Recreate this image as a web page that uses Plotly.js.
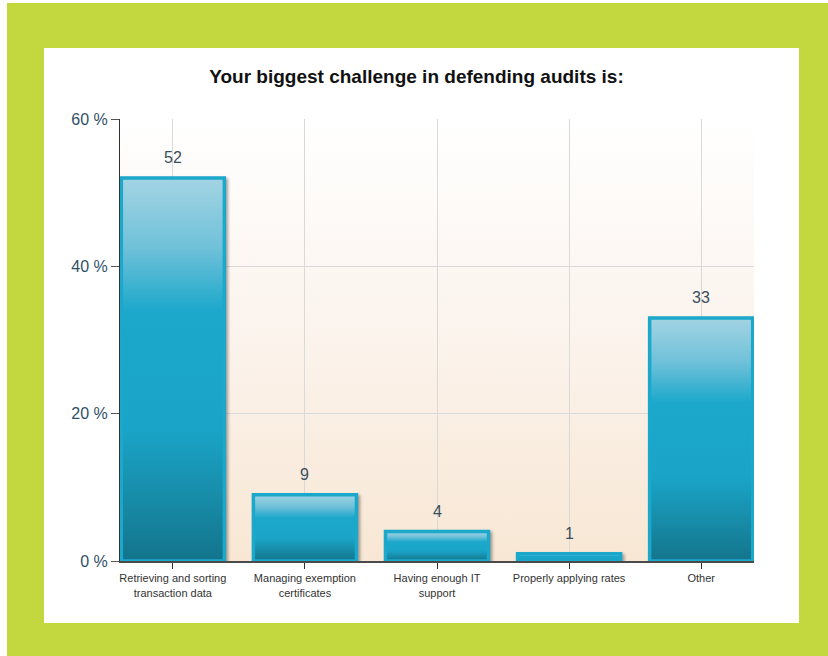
<!DOCTYPE html>
<html>
<head>
<meta charset="utf-8">
<script src="https://cdn.plot.ly/plotly-3.0.1.min.js"></script>
<style>
  html, body { margin:0; padding:0; background:#ffffff; width:828px; height:656px; overflow:hidden; }
  #green { position:absolute; left:7px; top:3px; width:821px; height:653px; background:#c2d83e; }
  #panel { position:absolute; left:44px; top:48px; width:755px; height:575px; background:#ffffff; }
  #chart { position:absolute; left:0; top:0; width:828px; height:656px; }
</style>
</head>
<body>
<div id="green"></div>
<div id="panel"></div>
<div id="chart"></div>
<script>
const categories = [
  "Retrieving and sorting<br>transaction data",
  "Managing exemption<br>certificates",
  "Having enough IT<br>support",
  "Properly applying rates",
  "Other"
];
const values = [52, 9, 4, 1, 33];
const valueLabels = ["52", "9", "4", "1", "33"];
const yTicks = [0, 20, 40, 60];

const trace = {
  type: "bar",
  x: categories,
  y: values,
  width: 0.78,
  marker: { color: "#1ba8cb", line: { color: "#1ba8cb", width: 3.5 } },
  hoverinfo: "none"
};

const annotations = categories.map((c, i) => ({
  x: c, y: values[i], xref: "x", yref: "y",
  text: valueLabels[i], showarrow: false,
  yanchor: "bottom", yshift: 10,
  font: { family: "Arial, Liberation Sans, sans-serif", size: 16, color: "#3a4d5c" }
}));

const layout = {
  width: 828, height: 656,
  paper_bgcolor: "rgba(0,0,0,0)",
  plot_bgcolor: "#fdf6ee",
  margin: { l: 120, r: 74, t: 119, b: 95, pad: 0 },
  showlegend: false,
  title: {
    text: "<b>Your biggest challenge in defending audits is:</b>",
    x: 0.503, xanchor: "center", y: 0.884, yanchor: "middle",
    font: { family: "Arial, Liberation Sans, sans-serif", size: 19, color: "#111111" }
  },
  xaxis: {
    range: [-0.4, 4.4],
    showgrid: true, gridcolor: "#d9d9d9", gridwidth: 1,
    showline: true, linecolor: "#4a4a4a", linewidth: 2,
    ticks: "outside", ticklen: 6, tickcolor: "#333333", tickwidth: 1,
    tickfont: { family: "Arial, Liberation Sans, sans-serif", size: 11, color: "#333333" },
    fixedrange: true
  },
  yaxis: {
    range: [0, 60],
    tickvals: yTicks,
    ticktext: yTicks.map(v => v + " %"),
    showgrid: true, gridcolor: "#d9d9d9", gridwidth: 1,
    zeroline: false,
    showline: true, linecolor: "#333333", linewidth: 1,
    ticks: "outside", ticklen: 8, tickcolor: "#555555", tickwidth: 1,
    tickfont: { family: "Arial, Liberation Sans, sans-serif", size: 16, color: "#2f5167" },
    fixedrange: true
  },
  annotations: annotations
};

Plotly.newPlot("chart", [trace], layout, { displayModeBar: false, staticPlot: true }).then(function (gd) {
  const svg = gd.querySelector("svg.main-svg");
  const NS = "http://www.w3.org/2000/svg";
  let defs = svg.querySelector("defs");
  if (!defs) { defs = document.createElementNS(NS, "defs"); svg.insertBefore(defs, svg.firstChild); }
  function grad(id, stops) {
    const g = document.createElementNS(NS, "linearGradient");
    g.setAttribute("id", id);
    g.setAttribute("x1", "0"); g.setAttribute("y1", "0");
    g.setAttribute("x2", "0"); g.setAttribute("y2", "1");
    stops.forEach(s => {
      const st = document.createElementNS(NS, "stop");
      st.setAttribute("offset", s[0]);
      st.setAttribute("stop-color", s[1]);
      g.appendChild(st);
    });
    defs.appendChild(g);
  }
  grad("barGrad", [["0", "#a3d4e3"], ["0.18", "#70c1d9"], ["0.35", "#1ba8cb"], ["0.65", "#1aa5c8"], ["0.85", "#178aa6"], ["1", "#13748c"]]);
  grad("bgGrad", [["0", "#ffffff"], ["0.5", "#fbf3ec"], ["1", "#f8e7d4"]]);
  gd.querySelectorAll(".barlayer .point path").forEach(p => {
    p.style.fill = "url(#barGrad)";
    p.style.filter = "drop-shadow(2px 2px 1.5px rgba(0,0,0,0.35))";
  });
  const bg = gd.querySelector(".bglayer rect.bg");
  if (bg) bg.style.fill = "url(#bgGrad)";
});
</script>
</body>
</html>
